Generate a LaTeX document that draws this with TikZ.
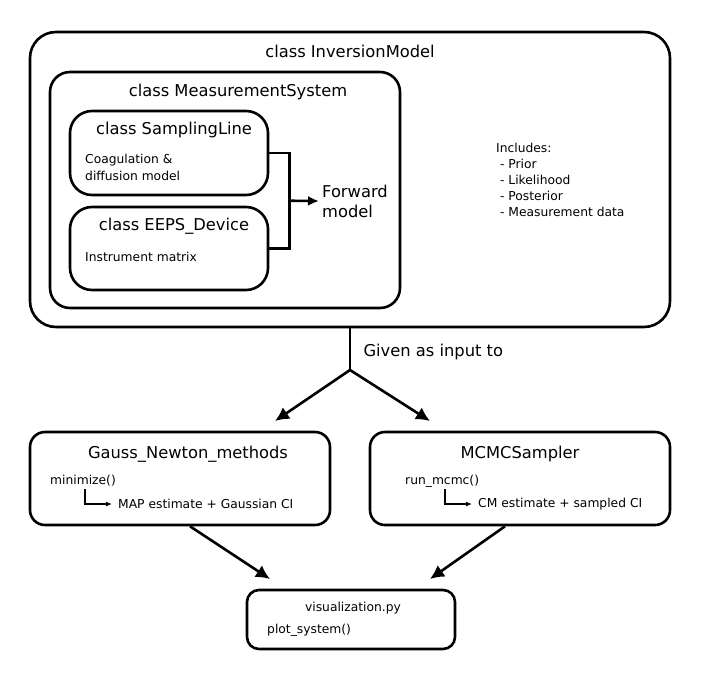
\documentclass[tikz,border=0pt]{standalone}
\usepackage{fontspec}
\setmainfont{DejaVu Sans}
\usetikzlibrary{arrows.meta}
\usetikzlibrary{positioning}
\usetikzlibrary{calc}

\tikzset{
  box/.style={draw, line width=2.6pt, rounded corners=#1, inner sep=0pt},
  box/.default=16pt,
  conn/.style={line width=2.6pt},
  bigarrow/.style={conn, -{Latex[length=14pt, width=14pt]}},
  smallarrow/.style={line width=1.3pt, -{Latex[length=6pt, width=5pt]}},
  title/.style={font=\fontsize{16.3}{20}\selectfont},
  body/.style={font=\fontsize{12.3}{16}\selectfont, anchor=west, inner sep=0pt}
}

\begin{document}
\begin{tikzpicture}[x=1pt, y=-1pt]
  \useasboundingbox (0, 0) rectangle (703, 680);

  % model classes
  \node[box=26pt, minimum width=640pt, minimum height=295pt] (inv) at (350, 179.5) {};
  \node[title] (invtitle) at (350, 51) {class InversionModel};
  \node[box=20pt, minimum width=350pt, minimum height=236pt] (meas) at (225, 190) {};
  \node[title] (meastitle) at (238, 92) {class MeasurementSystem};
  \node[box=22pt, minimum width=198pt, minimum height=84pt] (samp) at (169, 153) {};
  \node[title] (samptitle) at (174, 130) {class SamplingLine};
  \node[body] (coag) at (85, 160) {Coagulation \&};
  \node[body] (diff) at (85, 176) {diffusion model};
  \node[box=22pt, minimum width=198pt, minimum height=83pt] (eeps) at (169, 248.5) {};
  \node[title] (eepstitle) at (174, 226) {class EEPS\_Device};
  \node[body] (instr) at (85, 257) {Instrument matrix};

  % forward model bracket
  \draw[conn] (samp.east) -- ++(20, 0) coordinate (brtop) |- (eeps.east);
  \coordinate (brmid) at ($(brtop)!0.5!(brtop |- eeps.east)$);
  \node[title, anchor=west, align=left, inner sep=0pt] (fwd) at (322, 201) {Forward\\model};
  \draw[bigarrow, -{Latex[length=11pt, width=10pt]}] (brmid) -- ([xshift=-3pt]fwd.west);

  \node[body, align=left] (incl) at (496, 180) {Includes:\\\ - Prior\\\ - Likelihood\\\ - Posterior\\\ - Measurement data};

  % solvers
  \coordinate (split) at (350, 370);
  \coordinate (gtip) at (275, 421);
  \coordinate (mtip) at (430, 421);
  \draw[conn] (inv.south) -- (split);
  \node[title, anchor=west] (given) at (360, 352) {Given as input to};
  \draw[bigarrow] (split) -- (gtip);
  \draw[bigarrow] (split) -- (mtip);

  \node[box=15pt, minimum width=300pt, minimum height=93pt] (gauss) at (180, 478.5) {};
  \node[title] (gausstitle) at (188, 454) {Gauss\_Newton\_methods};
  \node[body] (minz) at (50, 481) {minimize()};
  \node[body] (map) at (118, 504) {MAP estimate + Gaussian CI};
  \draw[smallarrow] (85, 489) |- ([xshift=-6pt]map.west);

  \node[box=15pt, minimum width=300pt, minimum height=93pt] (mcmc) at (520, 478.5) {};
  \node[title] (mcmctitle) at (520, 454) {MCMCSampler};
  \node[body] (runm) at (405, 481) {run\_mcmc()};
  \node[body] (cm) at (478, 504) {CM estimate + sampled CI};
  \draw[smallarrow] (445, 489) |- ([xshift=-6pt]cm.west);

  % output
  \coordinate (vgtip) at (270, 579);
  \coordinate (vmtip) at (430, 579);
  \draw[bigarrow] ([xshift=10pt]gauss.south) -- (vgtip);
  \draw[bigarrow] ([xshift=-15pt]mcmc.south) -- (vmtip);

  \node[box=12pt, minimum width=208pt, minimum height=59pt] (vis) at (351, 619.5) {};
  \node[body, anchor=center] (vistitle) at (353, 608) {visualization.py};
  \node[body] (plot) at (267, 630) {plot\_system()};
\end{tikzpicture}
\end{document}
